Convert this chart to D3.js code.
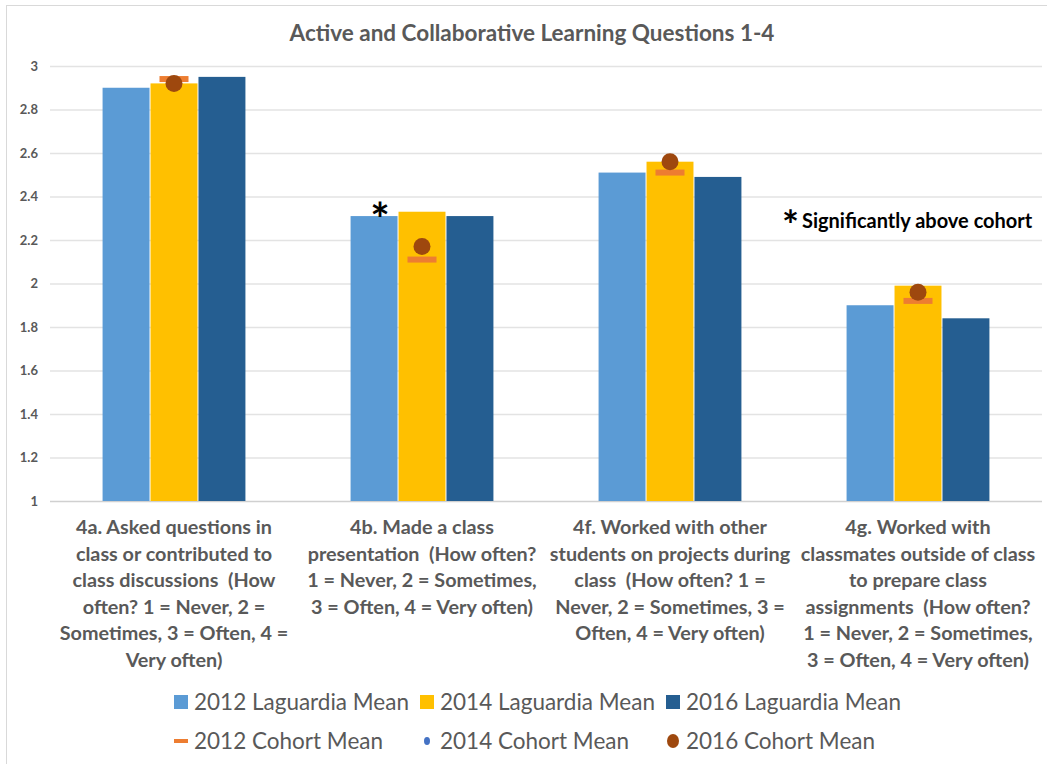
<!DOCTYPE html>
<html>
<head>
<meta charset="utf-8">
<title>Active and Collaborative Learning Questions 1-4</title>
<script src="https://d3js.org/d3.v7.min.js"></script>
<style>
	body{
		margin:0;
		background:#fff;
		font-family: Lato, 'Open Sans', sans-serif;
	}
	text{
		white-space: pre;
	}
</style>
</head>
<body>
<div id="chart"></div>
<script>

//DATA

var questions = ["4a", "4b", "4f", "4g"];
var questionLines = [
	["4a. Asked questions in", "class or contributed to", "class discussions  (How", "often? 1 = Never, 2 =", "Sometimes, 3 = Often, 4 =", "Very often)"],
	["4b. Made a class", "presentation  (How often?", "1 = Never, 2 = Sometimes,", "3 = Often, 4 = Very often)"],
	["4f. Worked with other", "students on projects during", "class  (How often? 1 =", "Never, 2 = Sometimes, 3 =", "Often, 4 = Very often)"],
	["4g. Worked with", "classmates outside of class", "to prepare class", "assignments  (How often?", "1 = Never, 2 = Sometimes,", "3 = Often, 4 = Very often)"]
];
var barSeries = ["2012 Laguardia Mean", "2014 Laguardia Mean", "2016 Laguardia Mean"];
var laguardia2012 = [2.90, 2.31, 2.51, 1.90];
var laguardia2014 = [2.92, 2.33, 2.56, 1.99];
var laguardia2016 = [2.95, 2.31, 2.49, 1.84];
var cohort2012 = [2.94, 2.11, 2.51, 1.92];
var cohort2014 = [2.92, 2.17, 2.55, 1.96];
var cohort2016 = [2.92, 2.17, 2.56, 1.96];
var significant = [null, "2012 Laguardia Mean", null, null];
var yTicks = [1, 1.2, 1.4, 1.6, 1.8, 2, 2.2, 2.4, 2.6, 2.8, 3];

//SETUP

var width = 1047;
var height = 764;
var grey = "#595959";
var barColors = ["#5B9BD5", "#FFC000", "#255E91"];

var svg = d3.select("#chart").append("svg")
	.attr("width", width)
	.attr("height", height);

// chart border
svg.append("rect")
	.attr("x", 6.5).attr("y", 5.5)
	.attr("width", 1060).attr("height", 780)
	.attr("fill", "none")
	.attr("stroke", "#d9d9d9");

svg.append("text")
	.attr("x", 532).attr("y", 41)
	.attr("text-anchor", "middle")
	.attr("font-size", "22.5px")
	.attr("font-weight", "bold")
	.attr("fill", grey)
	.text("Active and Collaborative Learning Questions 1-4");

var x = d3.scaleBand()
	.domain(questions)
	.range([50, 1042])
	.paddingInner(0.42)
	.paddingOuter(0.21);

var xInner = d3.scaleBand()
	.domain(barSeries)
	.range([0, x.bandwidth()]);

var y = d3.scaleLinear()
	.domain([1, 3])
	.range([501, 66]);

//GRIDLINES AND Y AXIS

var yAxis = svg.append("g")
	.attr("transform", "translate(50,0)")
	.call(d3.axisLeft(y).tickValues(yTicks).tickSize(-992).tickFormat(d3.format("")));

yAxis.select(".domain").remove();
yAxis.selectAll(".tick line")
	.attr("stroke", function(d){ return d == 1 ? "#d0d0d0" : "#e3e3e3"; })
	.attr("stroke-width", function(d){ return d == 1 ? 1.5 : 1.3; });
yAxis.selectAll(".tick text")
	.attr("x", -12)
	.attr("font-family", "Lato, sans-serif")
	.attr("font-size", "13px")
	.attr("font-weight", "bold")
	.attr("fill", grey);

//BARS

var rows = questions.map(function(q, i){
	return {
		q: q,
		bars: [laguardia2012[i], laguardia2014[i], laguardia2016[i]],
		c12: cohort2012[i], c14: cohort2014[i], c16: cohort2016[i],
		sig: significant[i]
	};
});

var groups = svg.selectAll("g.group")
	.data(rows)
	.enter()
	.append("g")
	.attr("class", "group")
	.attr("transform", function(d){ return "translate(" + x(d.q) + ",0)"; });

groups.selectAll("rect")
	.data(function(d){ return d.bars.map(function(v, j){ return {s: barSeries[j], v: v, j: j}; }); })
	.enter()
	.append("rect")
	.attr("x", function(d){ return xInner(d.s) + 0.5; })
	.attr("y", function(d){ return y(d.v); })
	.attr("width", xInner.bandwidth() - 1)
	.attr("height", function(d){ return y(1) - y(d.v); })
	.attr("fill", function(d){ return barColors[d.j]; });

var mid = xInner("2014 Laguardia Mean") + xInner.bandwidth() / 2;

groups.append("rect")
	.attr("x", mid - 14.5)
	.attr("y", function(d){ return y(d.c12) - 3; })
	.attr("width", 29)
	.attr("height", 6)
	.attr("fill", "#ED7D31");

groups.append("circle")
	.attr("cx", mid)
	.attr("cy", function(d){ return y(d.c14); })
	.attr("r", 4)
	.attr("fill", "#4472C4");

groups.append("circle")
	.attr("cx", mid)
	.attr("cy", function(d){ return y(d.c16); })
	.attr("r", 8.5)
	.attr("fill", "#9E480E");

groups.filter(function(d){ return d.sig; })
	.append("text")
	.attr("x", function(d){ return xInner(d.sig) + xInner.bandwidth() / 2 + 6; })
	.attr("y", function(d){ return y(d.bars[0]) + 20; })
	.attr("text-anchor", "middle")
	.attr("font-size", "46px")
	.attr("font-weight", "bold")
	.attr("fill", "#000")
	.text("*");

//CATEGORY LABELS

var labels = svg.selectAll("text.cat")
	.data(rows)
	.enter()
	.append("text")
	.attr("class", "cat")
	.attr("text-anchor", "middle")
	.attr("font-size", "19.8px")
	.attr("font-weight", "bold")
	.attr("fill", grey);

labels.selectAll("tspan")
	.data(function(d, i){ return questionLines[i].map(function(l){ return {l: l, q: d.q}; }); })
	.enter()
	.append("tspan")
	.attr("x", function(d){ return x(d.q) + x.bandwidth() / 2; })
	.attr("y", function(d, k){ return 534 + k * 26.5; })
	.text(function(d){ return d.l; });

//ANNOTATION

var note = svg.append("text")
	.attr("x", 782).attr("y", 228)
	.attr("font-weight", "bold")
	.attr("fill", "#000");
note.append("tspan").attr("font-size", "40px").attr("dy", 12).text("*");
note.append("tspan").attr("font-size", "20px").attr("dx", 3).attr("dy", -12).text("Significantly above cohort");

//LEGEND

var legendItems = [
	{label: "2012 Laguardia Mean", type: "rect", color: barColors[0]},
	{label: "2014 Laguardia Mean", type: "rect", color: barColors[1]},
	{label: "2016 Laguardia Mean", type: "rect", color: barColors[2]},
	{label: "2012 Cohort Mean", type: "dash", color: "#ED7D31"},
	{label: "2014 Cohort Mean", type: "dot", color: "#4472C4"},
	{label: "2016 Cohort Mean", type: "big", color: "#9E480E"}
];
var legendX = [174, 420, 666];
var legendY = [702, 741];

var legend = svg.selectAll("g.legend")
	.data(legendItems)
	.enter()
	.append("g")
	.attr("class", "legend")
	.attr("transform", function(d, i){ return "translate(" + legendX[i % 3] + "," + legendY[Math.floor(i / 3)] + ")"; });

legend.each(function(d){
	var g = d3.select(this);
	if (d.type == "rect") {
		g.append("rect").attr("x", 0).attr("y", -7).attr("width", 14).attr("height", 14).attr("fill", d.color);
	} else if (d.type == "dash") {
		g.append("rect").attr("x", 0).attr("y", -2).attr("width", 14).attr("height", 4).attr("fill", d.color);
	} else if (d.type == "dot") {
		g.append("ellipse").attr("cx", 7).attr("cy", 0).attr("rx", 3).attr("ry", 4).attr("fill", d.color);
	} else {
		g.append("ellipse").attr("cx", 7).attr("cy", 0).attr("rx", 6).attr("ry", 7).attr("fill", d.color);
	}
	g.append("text")
		.attr("x", 20)
		.attr("y", 7.5)
		.attr("font-size", "22.5px")
		.attr("fill", grey)
		.text(d.label);
});

</script>
</body>
</html>
